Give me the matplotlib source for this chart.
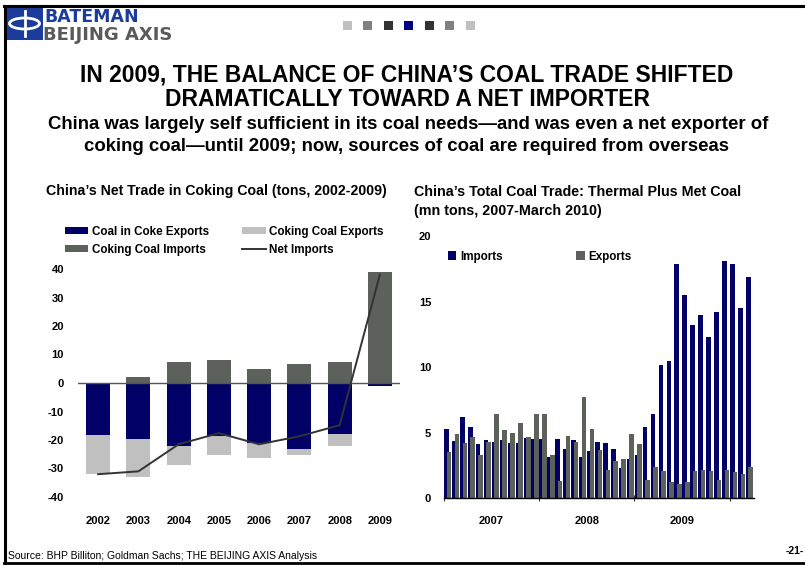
import matplotlib
matplotlib.use('Agg')
import matplotlib.pyplot as plt
import numpy as np
from matplotlib.lines import Line2D
from matplotlib.patches import Rectangle, Patch, Ellipse

plt.rcParams['font.family'] = ['Liberation Sans', 'DejaVu Sans']

# ---------------- data ----------------
years = ['2002', '2003', '2004', '2005', '2006', '2007', '2008', '2009']
coal_in_coke_exports = [-18.3, -19.7, -22.2, -18.6, -21.2, -23.2, -18.0, -1.0]
coking_coal_exports = [-13.7, -13.4, -6.7, -6.7, -5.2, -2.1, -4.2, 0.0]
coking_coal_imports = [0.0, 2.2, 7.4, 7.9, 4.9, 6.7, 7.4, 39.1]
net_imports = [-32.0, -31.0, -21.5, -17.6, -21.5, -18.7, -14.8, 38.0]
left_yticks = [-40, -30, -20, -10, 0, 10, 20, 30, 40]

month_labels = [f'{m}-{y}' for y in ['07', '08', '09'] for m in
                ['Jan', 'Feb', 'Mar', 'Apr', 'May', 'Jun', 'Jul', 'Aug', 'Sep', 'Oct', 'Nov', 'Dec']] + \
               ['Jan-10', 'Feb-10', 'Mar-10']
imports_mt = [5.28, 4.37, 6.19, 5.43, 4.14, 4.44, 4.29, 4.44, 4.21, 4.21, 4.59, 4.52,
              4.52, 3.15, 4.52, 3.76, 4.44, 3.15, 3.60, 4.29, 4.21, 3.76, 2.31, 2.99,
              3.30, 5.43, 6.42, 10.15, 10.46, 17.84, 15.48, 13.20, 13.96, 12.28, 14.19, 18.07,
              17.84, 14.49, 16.85]
exports_mt = [3.53, 4.90, 4.21, 4.67, 3.30, 4.29, 6.42, 5.20, 4.97, 5.74, 4.67, 6.42,
              6.42, 3.30, 1.32, 4.75, 4.29, 7.74, 5.28, 3.68, 2.16, 2.84, 2.99, 4.90,
              4.14, 1.40, 2.39, 2.08, 1.24, 1.09, 1.24, 2.08, 2.16, 2.08, 1.40, 2.16,
              2.01, 1.85, 2.39]
year_labels = ['2007', '2008', '2009']
right_yticks = [0, 5, 10, 15, 20]

NAVY = '#000066'
DGREY = '#5C615C'
LGREY = '#C0C0C0'

W, H = 805, 565
fig = plt.figure(figsize=(W / 100, H / 100), dpi=100)
fig.patch.set_facecolor('white')


def fx(px):
    return px / W


def fy(py):
    return 1 - py / H


# ---------------- page decorations ----------------
fig.add_artist(Line2D([fx(4), fx(805)], [fy(6), fy(6)], color='black', lw=2.2))
fig.add_artist(Line2D([fx(5), fx(5)], [fy(6), fy(563)], color='black', lw=2.2))
fig.add_artist(Line2D([fx(4), fx(805)], [fy(562.5), fy(562.5)], color='black', lw=2.0))

# logo
fig.add_artist(Rectangle((fx(6), fy(40)), fx(43) - fx(6), fy(7) - fy(40),
                         transform=fig.transFigure, facecolor='#1B3C9B', edgecolor='none'))
fig.add_artist(Ellipse((fx(24.5), fy(23.5)), fx(30) - fx(0), fy(0) - fy(11),
                       transform=fig.transFigure, facecolor='none', edgecolor='white', lw=2))
fig.add_artist(Line2D([fx(24.5), fx(24.5)], [fy(11), fy(36)], color='white', lw=2))
fig.text(fx(44), fy(22), 'BATEMAN', color='#1B3C9B', fontsize=12.5, fontweight='bold',
         family='DejaVu Sans', ha='left', va='baseline')
fig.text(fx(43), fy(40.5), 'BEIJING AXIS', color='#5A5A5A', fontsize=13, fontweight='bold',
         family='DejaVu Sans', ha='left', va='baseline')

# navigation squares
sq_cols = ['#C0C0C0', '#808080', '#333333', '#000080', '#333333', '#808080', '#C0C0C0']
for i, c in enumerate(sq_cols):
    cx = 347.3 + i * 20.5
    fig.add_artist(Rectangle((fx(cx - 4.5), fy(30)), fx(9), fy(0) - fy(9),
                             transform=fig.transFigure, facecolor=c, edgecolor='none'))

# titles
fig.text(fx(407), fy(75), 'IN 2009, THE BALANCE OF CHINA\u2019S COAL TRADE SHIFTED',
         ha='center', va='center', fontsize=16.5, fontweight='bold')
fig.text(fx(407), fy(99), 'DRAMATICALLY TOWARD A NET IMPORTER',
         ha='center', va='center', fontsize=16.5, fontweight='bold')
fig.text(fx(408.5), fy(124.5), 'China was largely self sufficient in its coal needs\u2014and was even a net exporter of',
         ha='center', va='center', fontsize=13.4, fontweight='bold')
fig.text(fx(406.5), fy(146.5), 'coking coal\u2014until 2009; now, sources of coal are required from overseas',
         ha='center', va='center', fontsize=13.4, fontweight='bold')

fig.text(fx(8), fy(556), 'Source: BHP Billiton; Goldman Sachs; THE BEIJING AXIS Analysis',
         ha='left', va='center', fontsize=7.45)
fig.text(fx(804), fy(551), '-21-', ha='right', va='center', fontsize=7.5, fontweight='bold')

# ---------------- left chart ----------------
axL = fig.add_axes([fx(78), fy(497), fx(400) - fx(78), fy(269) - fy(497)])
x = np.arange(len(years))
bw = 0.6
b1 = axL.bar(x, coal_in_coke_exports, bw, color=NAVY, label='Coal in Coke Exports', zorder=2)
b2 = axL.bar(x, coking_coal_exports, bw, bottom=coal_in_coke_exports, color=LGREY,
             label='Coking Coal Exports', zorder=2)
b3 = axL.bar(x, coking_coal_imports, bw, color=DGREY, label='Coking Coal Imports', zorder=2)
axL.axhline(0, color='#555555', lw=1.0, zorder=3)
l1, = axL.plot(x, net_imports, color='#333333', lw=1.4, label='Net Imports', zorder=4)
axL.set_xlim(-0.5, len(years) - 0.5)
axL.set_ylim(-40, 40)
axL.set_yticks(left_yticks)
axL.set_yticklabels([str(v) for v in left_yticks])
axL.set_xticks(x)
axL.set_xticklabels(years)
for s in axL.spines.values():
    s.set_visible(False)
axL.tick_params(axis='both', length=0, labelsize=8)
axL.tick_params(axis='y', pad=10)
axL.tick_params(axis='x', pad=14)
for t in axL.get_xticklabels() + axL.get_yticklabels():
    t.set_fontweight('bold')

fig.text(fx(46), fy(191), 'China\u2019s Net Trade in Coking Coal (tons, 2002-2009)',
         ha='left', va='center', fontsize=10.2, fontweight='bold')
axL.legend([b1, b3, b2, l1],
           ['Coal in Coke Exports', 'Coking Coal Imports', 'Coking Coal Exports', 'Net Imports'],
           ncol=2, loc='upper left', bbox_to_anchor=(fx(60), fy(221)),
           bbox_transform=fig.transFigure, frameon=False,
           prop={'size': 8.4, 'weight': 'bold'}, handlelength=2.0, handleheight=0.6,
           handletextpad=0.3, columnspacing=2.9, labelspacing=0.5, borderaxespad=0)

# ---------------- right chart ----------------
axR = fig.add_axes([fx(443.7), fy(498.3), fx(753.5) - fx(443.7), fy(236) - fy(498.3)])
m = np.arange(len(imports_mt))
w = 0.58
bi = axR.bar(m - 0.16, imports_mt, w, color=NAVY, label='Imports', zorder=2)
be = axR.bar(m + 0.16, exports_mt, w, color=DGREY, label='Exports', zorder=3)
axR.set_xlim(-0.5, len(imports_mt) - 0.5)
axR.set_ylim(0, 20)
axR.set_yticks(right_yticks)
axR.set_yticklabels([str(v) for v in right_yticks])
for s in ['top', 'right', 'left']:
    axR.spines[s].set_visible(False)
axR.spines['bottom'].set_color('black')
axR.spines['bottom'].set_linewidth(1.0)
axR.spines['bottom'].set_zorder(5)
axR.set_xticks([-0.5, 11.5, 23.5, 35.5])
axR.set_xticklabels([])
axR.tick_params(axis='x', which='major', direction='inout', length=5, width=0.8, color='#333333')
axR.set_xticks([5.5, 17.5, 29.5], minor=True)
axR.set_xticklabels(year_labels, minor=True)
axR.tick_params(axis='x', which='minor', length=0, pad=13, labelsize=8)
axR.tick_params(axis='y', length=0, pad=9, labelsize=8)
for t in axR.get_xticklabels(minor=True) + axR.get_yticklabels():
    t.set_fontweight('bold')

fig.text(fx(414), fy(192), 'China\u2019s Total Coal Trade: Thermal Plus Met Coal',
         ha='left', va='center', fontsize=10.3, fontweight='bold')
fig.text(fx(414), fy(211), '(mn tons, 2007-March 2010)',
         ha='left', va='center', fontsize=10.3, fontweight='bold')
axR.legend([bi, be], ['Imports', 'Exports'], ncol=2, loc='upper left',
           bbox_to_anchor=(fx(443), fy(246)), bbox_transform=fig.transFigure, frameon=False,
           prop={'size': 8.4, 'weight': 'bold'}, handlelength=0.75, handleheight=0.75,
           handletextpad=0.3, columnspacing=6.3, borderaxespad=0)

fig.savefig('out.png', dpi=100, facecolor='white')
